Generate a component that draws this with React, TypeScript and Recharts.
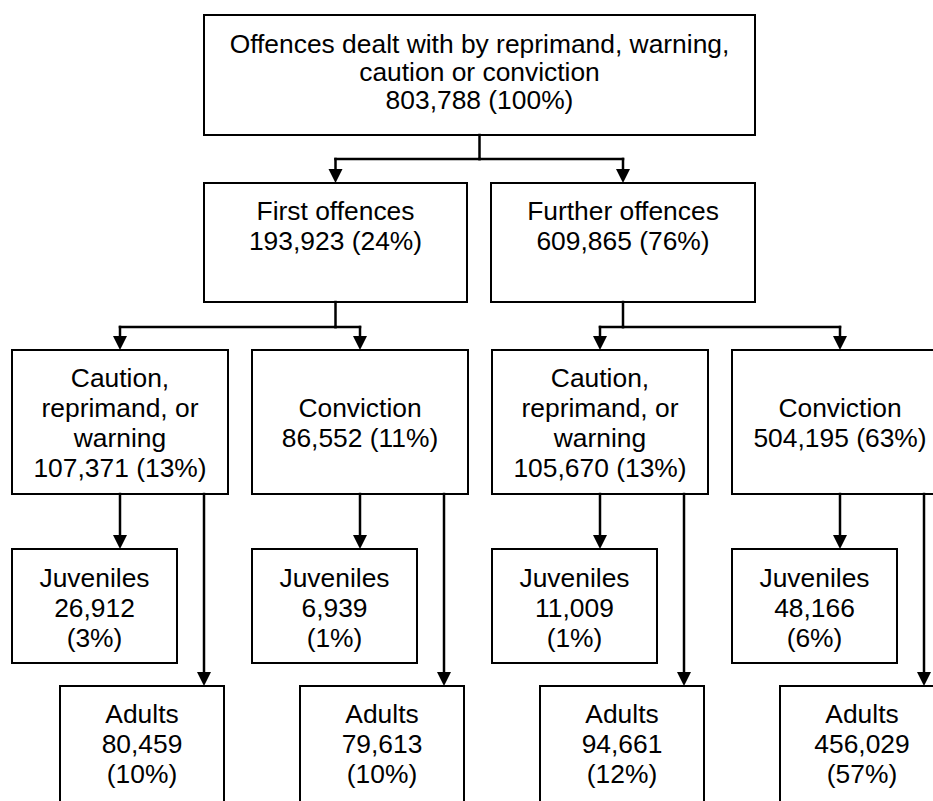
import React from "react";
import { ComposedChart, XAxis, YAxis, ReferenceArea, ReferenceLine, Scatter } from "recharts";

// ---------- data ----------
const nodeNames: string[][] = [
  ["Offences dealt with by reprimand, warning,", "caution or conviction"],
  ["First offences"],
  ["Further offences"],
  ["Caution,", "reprimand, or", "warning"],
  ["Conviction"],
  ["Caution,", "reprimand, or", "warning"],
  ["Conviction"],
  ["Juveniles"],
  ["Adults"],
  ["Juveniles"],
  ["Adults"],
  ["Juveniles"],
  ["Adults"],
  ["Juveniles"],
  ["Adults"],
];
const nodeCounts = [803788, 193923, 609865, 107371, 86552, 105670, 504195, 26912, 80459, 6939, 79613, 11009, 94661, 48166, 456029];
const nodePercents = [100, 24, 76, 13, 11, 13, 63, 3, 10, 1, 10, 1, 12, 6, 57];
const nodeParents = [-1, 0, 0, 1, 1, 2, 2, 3, 3, 4, 4, 5, 5, 6, 6];

// ---------- layout (chart units = px) ----------
const W = 933;
const H = 801;
const COL0 = 12;
const COL_STEP = 240;
type Box = { x0: number; x1: number; y0: number; y1: number; pad: number; lh: number; split: boolean; arrowX: number };

function buildLayout(): Box[] {
  const boxes: Box[] = [];
  boxes.push({ x0: 204, x1: 755, y0: 15, y1: 135, pad: 28, lh: 28, split: false, arrowX: 0 });
  boxes.push({ x0: 204, x1: 467, y0: 183, y1: 302, pad: 27, lh: 30, split: false, arrowX: 0 });
  boxes.push({ x0: 491, x1: 755, y0: 183, y1: 302, pad: 27, lh: 30, split: false, arrowX: 0 });
  for (let c = 0; c < 4; c++) {
    const L = COL0 + COL_STEP * c;
    const lines = nodeNames[3 + c].length + 1;
    boxes.push({ x0: L, x1: L + 216, y0: 350, y1: 494, pad: lines === 4 ? 27 : 57, lh: 30, split: false, arrowX: 0 });
  }
  for (let c = 0; c < 4; c++) {
    const L = COL0 + COL_STEP * c;
    boxes.push({ x0: L, x1: L + 165, y0: 549, y1: 663, pad: 28, lh: 30, split: true, arrowX: L + 108 });
    boxes.push({ x0: L + 48, x1: L + 212, y0: 686, y1: 840, pad: 27, lh: 30, split: true, arrowX: L + 192 });
  }
  boxes.forEach((b, i) => {
    if (i >= 1 && i <= 6) b.arrowX = (b.x0 + b.x1) / 2;
  });
  return boxes;
}
const boxes = buildLayout();
const busY: Record<number, number> = { 0: 159, 1: 327, 2: 327 };
const ARROW_H = 14;

const fmt = (n: number) => n.toLocaleString("en-US");

function nodeLines(i: number): string[] {
  const b = boxes[i];
  const num = fmt(nodeCounts[i]);
  const pct = `(${nodePercents[i]}%)`;
  return b.split ? [...nodeNames[i], num, pct] : [...nodeNames[i], `${num} ${pct}`];
}

type Seg = [{ x: number; y: number }, { x: number; y: number }];
const segments: Seg[] = [];
const tips: { x: number; y: number }[] = [];
const trunkDone: Record<number, boolean> = {};
nodeParents.forEach((p, i) => {
  if (p < 0) return;
  const pb = boxes[p];
  const cb = boxes[i];
  const ax = cb.arrowX;
  const by = busY[p];
  if (by !== undefined) {
    const tx = (pb.x0 + pb.x1) / 2;
    if (!trunkDone[p]) {
      segments.push([{ x: tx, y: pb.y1 }, { x: tx, y: by }]);
      trunkDone[p] = true;
    }
    segments.push([{ x: tx, y: by }, { x: ax, y: by }]);
    segments.push([{ x: ax, y: by }, { x: ax, y: cb.y0 - ARROW_H }]);
  } else {
    segments.push([{ x: ax, y: pb.y1 }, { x: ax, y: cb.y0 - ARROW_H }]);
  }
  tips.push({ x: ax, y: cb.y0 });
});

const labelPoints = boxes.map((b, i) => ({ x: (b.x0 + b.x1) / 2, y: b.y0 + b.pad, lines: nodeLines(i), lh: b.lh }));

const FONT = "'Liberation Sans', Arial, Helvetica, sans-serif";

const ArrowShape = (props: any) => {
  const { cx, cy } = props;
  return <path d={`M${cx},${cy} L${cx - 7},${cy - ARROW_H} L${cx + 7},${cy - ARROW_H} Z`} fill="#000" />;
};

const TextShape = (props: any) => {
  const { cx, cy, payload } = props;
  const lines: string[] = payload.lines;
  const lh: number = payload.lh;
  return (
    <text textAnchor="middle" fontFamily={FONT} fontSize={26.4} fill="#000">
      {lines.map((l, k) => (
        <tspan key={k} x={cx} y={cy + k * lh + 9.5}>
          {l}
        </tspan>
      ))}
    </text>
  );
};

export default function App() {
  return (
    <div style={{ position: "absolute", left: 0, top: 0, width: W, height: H, background: "#fff", overflow: "hidden" }}>
      <ComposedChart width={W} height={H} margin={{ top: 0, right: 0, bottom: 0, left: 0 }}>
        <XAxis type="number" dataKey="x" domain={[0, W]} hide allowDataOverflow />
        <YAxis type="number" dataKey="y" domain={[0, H]} reversed hide allowDataOverflow />
        {boxes.map((b, i) => (
          <ReferenceArea
            key={`box${i}`}
            x1={b.x0}
            x2={b.x1}
            y1={b.y0}
            y2={b.y1}
            fill="#fff"
            fillOpacity={1}
            stroke="#000"
            strokeWidth={2}
            ifOverflow="visible"
          />
        ))}
        {segments.map((s, i) => (
          <ReferenceLine
            key={`seg${i}`}
            segment={s}
            stroke="#000"
            strokeWidth={2.5}
            strokeLinecap="square"
            ifOverflow="visible"
          />
        ))}
        <Scatter data={tips} shape={ArrowShape} isAnimationActive={false} />
        <Scatter data={labelPoints} shape={TextShape} isAnimationActive={false} />
      </ComposedChart>
    </div>
  );
}
